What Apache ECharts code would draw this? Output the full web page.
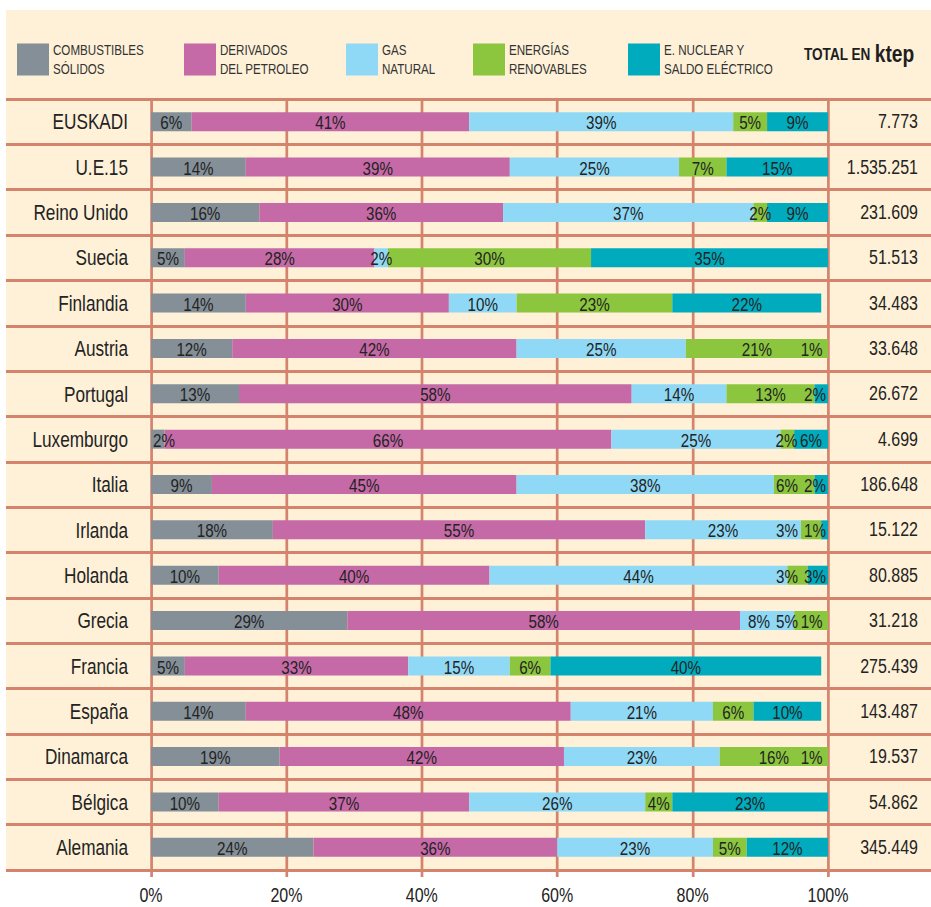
<!DOCTYPE html>
<html>
<head>
<meta charset="utf-8">
<script src="https://cdn.jsdelivr.net/npm/echarts@6/dist/echarts.min.js"></script>
<style>
  html, body { margin: 0; padding: 0; background: #ffffff; overflow: hidden; }
  #wrap { width: 931px; height: 907px; overflow: hidden; }
  /* the chart is laid out wider and squeezed horizontally to get a condensed typeface */
  #chart { height: 907px; transform-origin: 0 0; }
</style>
</head>
<body>
<div id="wrap"><div id="chart"></div></div>
<script>
// Consumo de energía primaria por fuente (% del total) y total en ktep
const categories = ['EUSKADI', 'U.E.15', 'Reino Unido', 'Suecia', 'Finlandia', 'Austria', 'Portugal',
  'Luxemburgo', 'Italia', 'Irlanda', 'Holanda', 'Grecia', 'Francia', 'España', 'Dinamarca', 'Bélgica', 'Alemania'];
const solidos    = [6, 14, 16, 5, 14, 12, 13, 2, 9, 18, 10, 29, 5, 14, 19, 10, 24];
const petroleo   = [41, 39, 36, 28, 30, 42, 58, 66, 45, 55, 40, 58, 33, 48, 42, 37, 36];
const gasNatural = [39, 25, 37, 2, 10, 25, 14, 25, 38, 23, 44, 8, 15, 21, 23, 26, 23];
const renovables = [5, 7, 2, 30, 23, 21, 13, 2, 6, 3, 3, 5, 6, 6, 16, 4, 5];
const nuclear    = [9, 15, 9, 35, 22, 1, 2, 6, 2, 1, 3, 1, 40, 10, 1, 23, 12];
const totales = ['7.773', '1.535.251', '231.609', '51.513', '34.483', '33.648', '26.672', '4.699',
  '186.648', '15.122', '80.885', '31.218', '275.439', '143.487', '19.537', '54.862', '345.449'];
const seriesNames = ['COMBUSTIBLES\nSÓLIDOS', 'DERIVADOS\nDEL PETROLEO', 'GAS\nNATURAL',
  'ENERGÍAS\nRENOVABLES', 'E. NUCLEAR Y\nSALDO ELÉCTRICO'];
const xTicks = [0, 20, 40, 60, 80, 100];

// Horizontal squeeze factor applied to the whole chart
const SX = 0.8;
const X = v => v / SX;
const W = 931, H = 907;
const chartEl = document.getElementById('chart');
chartEl.style.width = X(W) + 'px';
chartEl.style.transform = 'scaleX(' + SX + ')';

const FONT = "'Liberation Sans', Arial, sans-serif";
const colors = ['#848f97', '#c669a7', '#8fd9f6', '#8cc63f', '#00abbd'];
const lineColor = '#d4836d';
const textColor = '#232323';
const bg = '#fef1d8';

const gridLeft = X(151), gridWidth = X(677), gridTop = 99, gridBottomY = 870;
const pxPerUnit = gridWidth / 100;
const labelSize = 19;

const allSeries = [solidos, petroleo, gasNatural, renovables, nuclear];

// Approximate label width for a "NN%" string
function labelWidth(v) {
  const digits = String(v).length;
  return (digits * 0.556 + 0.889) * labelSize;
}

// Shift labels of narrow segments so neighbouring labels do not collide
const offsets = allSeries.map(() => new Array(categories.length).fill(0));
categories.forEach((_, j) => {
  const vals = allSeries.map(s => s[j]);
  const starts = [];
  let acc = 0;
  vals.forEach(v => { starts.push(acc); acc += v; });
  const barEnd = Math.min(100, acc) * pxPerUnit;
  let bound = barEnd - X(2);
  for (let i = vals.length - 1; i >= 0; i--) {
    const w = labelWidth(vals[i]);
    const mid = (starts[i] + vals[i] / 2) * pxPerUnit;
    let c = Math.min(mid, bound - w / 2);
    if (i === 0) c = Math.max(c, X(2) + w / 2);
    offsets[i][j] = c - mid;
    bound = c - w / 2 - X(6);
  }
});

const barSeries = allSeries.map((vals, i) => ({
  name: seriesNames[i],
  type: 'bar',
  stack: 'total',
  xAxisIndex: 0,
  yAxisIndex: 0,
  barWidth: 19,
  itemStyle: { color: colors[i] },
  label: {
    show: true,
    position: 'inside',
    formatter: '{c}%',
    color: textColor,
    fontFamily: FONT,
    fontSize: labelSize
  },
  data: vals.map((v, j) => ({ value: v, label: { offset: [offsets[i][j], 1] } }))
}));

const legendLefts = [17, 184, 346, 473, 628];
const legends = seriesNames.map((n, i) => ({
  data: [n],
  left: X(legendLefts[i]),
  top: 41,
  padding: 0,
  icon: 'rect',
  itemWidth: X(32),
  itemHeight: 32,
  selectedMode: false,
  textStyle: { fontFamily: FONT, fontSize: 14.5, color: '#333333', lineHeight: 18.5 }
}));

const option = {
  animation: false,
  backgroundColor: '#ffffff',
  color: colors,
  graphic: {
    elements: [{
      type: 'rect', z: -100, silent: true,
      shape: { x: X(6), y: 10, width: X(925), height: gridBottomY - 10 },
      style: { fill: bg }
    }]
  },
  title: {
    left: X(804), top: 42, padding: 0,
    text: '{a|TOTAL EN} {b|ktep}',
    textStyle: {
      rich: {
        a: { fontFamily: FONT, fontWeight: 'bold', fontSize: 17, color: '#1e1e1e' },
        b: { fontFamily: FONT, fontWeight: 'bold', fontSize: 24, color: '#1e1e1e' }
      }
    }
  },
  legend: legends,
  grid: [
    { left: gridLeft, width: gridWidth, top: gridTop, bottom: H - gridBottomY, containLabel: false },
    { left: X(6), right: 0, top: gridTop, bottom: H - gridBottomY, containLabel: false }
  ],
  xAxis: [{
    gridIndex: 0,
    type: 'value',
    min: xTicks[0], max: xTicks[xTicks.length - 1], interval: 20,
    axisLine: { show: false },
    axisTick: { show: true, length: 7, lineStyle: { color: lineColor, width: 3.4 } },
    splitLine: { show: true, lineStyle: { color: lineColor, width: 3.4 } },
    axisLabel: { formatter: '{value}%', fontFamily: FONT, fontSize: 20, color: textColor, margin: 15 }
  }, {
    gridIndex: 1,
    type: 'value', show: false, min: 0, max: 1
  }],
  yAxis: [{
    gridIndex: 0,
    type: 'category',
    data: categories,
    inverse: true,
    axisLine: { show: false },
    axisTick: { show: false },
    axisLabel: { fontFamily: FONT, fontSize: 21.5, color: textColor, margin: X(23) }
  }, {
    gridIndex: 0,
    type: 'category',
    position: 'right',
    data: totales,
    inverse: true,
    axisLine: { show: false },
    axisTick: { show: false },
    axisLabel: { fontFamily: FONT, fontSize: 20, color: textColor, align: 'right', margin: X(90) }
  }, {
    gridIndex: 1,
    type: 'category',
    data: categories,
    inverse: true,
    axisLine: { show: false },
    axisTick: { show: false },
    axisLabel: { show: false },
    splitLine: { show: true, lineStyle: { color: lineColor, width: 3 } }
  }],
  series: barSeries
};

const chart = echarts.init(chartEl, null, { renderer: 'svg' });
chart.setOption(option);
</script>
</body>
</html>
